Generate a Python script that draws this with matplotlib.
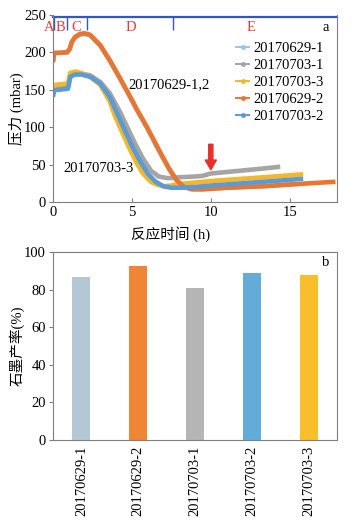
import numpy as np
import matplotlib
matplotlib.use("Agg")
import matplotlib.pyplot as plt

plt.rcParams['font.family'] = ['Liberation Serif', 'Noto Sans CJK SC']
plt.rcParams['axes.unicode_minus'] = False

# ---- panel a: pressure vs reaction time ----
t_0629_2 = [0, 0.07, 0.5, 0.9, 1.05, 1.2, 1.4, 1.7, 2.0, 2.35, 3.0, 3.6, 4.25, 4.9, 5.3,
            5.9, 6.35, 6.9, 7.4, 7.85, 8.3, 8.8, 9.5, 11, 13.3, 15.5, 17.9]
p_0629_2 = [187, 199, 199, 200, 204, 214, 220, 224, 225, 223, 209, 189, 165, 140, 124,
            102, 84, 62, 43, 29, 20, 17, 17, 19, 21, 24, 27]

# 20170629-1 runs underneath 20170629-2 (label "20170629-1,2")
t_0629_1 = [0, 0.07, 0.5, 0.9, 1.05, 1.2, 1.4, 1.7, 2.0, 2.35, 3.0, 3.6, 4.25, 4.9, 5.3,
            5.9, 6.35, 6.9, 7.4, 7.85, 8.3, 8.8, 9.5, 11, 13.3, 15.5]
p_0629_1 = [186, 198, 199, 199, 203, 213, 219, 223, 224, 222, 208, 188, 164, 139, 123,
            101, 83, 61, 42, 28, 20, 17, 17, 19, 21, 24]

t_0703_3 = [0, 0.07, 0.5, 0.95, 1.08, 1.4, 1.8, 2.35, 3.0, 3.6, 3.9, 4.3, 4.9, 5.3, 5.7,
            6.2, 6.6, 7.0, 7.5, 8.0, 10, 12, 14, 15.85]
p_0703_3 = [147, 156, 157, 158, 172, 174, 172, 167, 156, 134, 116, 97, 69, 52, 38,
            27, 23, 21, 22, 24, 28, 31, 34, 37]

t_0703_2 = [0, 0.07, 0.5, 0.95, 1.1, 1.4, 1.8, 2.35, 3.0, 3.6, 4.0, 4.5, 5.0, 5.5, 6.0,
            6.5, 7.0, 7.5, 8.0, 9.0, 10, 12, 14, 15.85]
p_0703_2 = [140, 149, 150, 151, 167, 170, 170, 167, 158, 140, 121, 98, 75, 55, 38,
            27, 21, 19, 19, 20, 22, 25, 28, 31]

t_0703_1 = [0, 0.07, 0.5, 0.95, 1.1, 1.4, 1.8, 2.35, 3.0, 3.6, 4.2, 4.7, 5.2, 5.7, 6.2,
            6.7, 7.2, 7.6, 8.0, 9.0, 9.5, 10, 11, 12, 13, 14.4]
p_0703_1 = [145, 152, 153, 154, 168, 171, 171, 169, 160, 145, 122, 100, 78, 58, 42,
            34, 32, 32, 33, 34, 35, 38, 40, 42, 44, 47]

phase_bounds = [0.06, 0.9, 2.15, 7.6]
phase_names = ['A', 'B', 'C', 'D', 'E']
phase_label_t = [-0.25, 0.5, 1.5, 4.95, 12.55]

# ---- panel b: graphite yield ----
samples = ['20170629-1', '20170629-2', '20170703-1', '20170703-2', '20170703-3']
yields = [86.7, 92.5, 81.0, 89.0, 87.8]
bar_colors = ['#B4C7D6', '#EE8636', '#B5B5B5', '#63ACDA', '#F9BE2B']

spine_c = '#7F7F7F'
fs = 10.5

fig = plt.figure(figsize=(3.54, 5.22), dpi=100)
ax = fig.add_axes([0.1497, 0.613, 0.8025, 0.3592])
ax2 = fig.add_axes([0.1497, 0.157, 0.8025, 0.360])

series = [
    ('20170629-1', t_0629_1, p_0629_1, '#9DC3E6'),
    ('20170703-1', t_0703_1, p_0703_1, '#A5A5A5'),
    ('20170703-3', t_0703_3, p_0703_3, '#F4B72A'),
    ('20170629-2', t_0629_2, p_0629_2, '#E9752F'),
    ('20170703-2', t_0703_2, p_0703_2, '#5B9BD5'),
]
handles = []
for name, t, p, c in series:
    ax.plot(t, p, color=c, lw=3.3, solid_capstyle='butt', solid_joinstyle='round')
    h, = ax.plot([], [], color=c, lw=1.4, marker='o', ms=2.5, label=name)
    handles.append(h)

ax.set_xlim(0, 18)
ax.set_ylim(0, 250)
ax.set_xticks([0, 5, 10, 15])
ax.set_yticks([0, 50, 100, 150, 200, 250])
ax.tick_params(axis='x', direction='in', length=3, color=spine_c, labelsize=fs, pad=3)
ax.tick_params(axis='y', direction='out', length=3, color=spine_c, labelsize=fs, pad=2)
for s in ax.spines.values():
    s.set_color(spine_c)
ax.spines['top'].set_visible(False)
ax.set_xlabel('反应时间 (h)', fontsize=fs, labelpad=1)
ax.xaxis.set_label_coords(0.415, -0.13)
ax.set_ylabel('压力 (mbar)', fontsize=fs, labelpad=0)

# phase bar at the top
ax.plot([0, 18], [247, 247], color='#3057C6', lw=1.6, clip_on=False)
ax.vlines(phase_bounds, 230, 247, color='#3057C6', lw=1.0)
for name, tx in zip(phase_names, phase_label_t):
    ax.text(tx, 233, name, color='#E0403A', fontsize=fs, ha='center', va='center', clip_on=False)
ax.text(17.3, 233, 'a', fontsize=fs, ha='center', va='center')

ax.text(4.75, 156, '20170629-1,2', fontsize=fs, ha='left', va='center')
ax.text(0.63, 45, '20170703-3', fontsize=fs, ha='left', va='center')

ax.annotate('', xy=(10, 43), xytext=(10, 77),
            arrowprops=dict(width=3.0, headwidth=8, headlength=7, color='#E8302A', shrink=0))

ax.legend(handles=handles, loc='upper left', bbox_to_anchor=(0.644, 0.853), frameon=False,
          fontsize=fs, handlelength=0.9, handletextpad=0.3, labelspacing=0.25,
          borderpad=0, borderaxespad=0)

# ---- bars ----
x = np.arange(len(samples))
ax2.bar(x, yields, width=0.32, color=bar_colors)
ax2.set_xlim(-0.5, len(samples) - 0.5)
ax2.set_ylim(0, 100)
ax2.set_yticks([0, 20, 40, 60, 80, 100])
ax2.set_xticks(x)
ax2.set_xticklabels(samples, rotation=90, fontsize=fs)
ax2.tick_params(axis='x', length=0, pad=4)
ax2.tick_params(axis='y', direction='out', length=3, color=spine_c, labelsize=fs, pad=2)
for s in ax2.spines.values():
    s.set_color(spine_c)
ax2.set_ylabel('石墨产率(%)', fontsize=fs, labelpad=0)
ax2.text(0.961, 0.947, 'b', transform=ax2.transAxes, fontsize=fs, ha='center', va='center')

fig.savefig('out.png', dpi=100)
